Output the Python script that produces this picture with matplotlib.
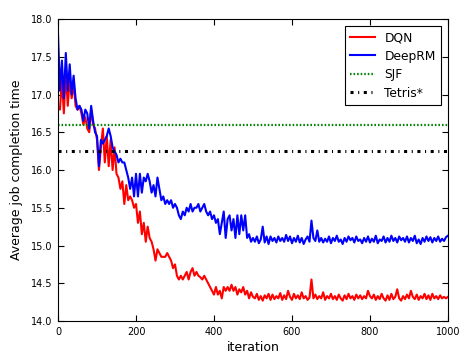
import numpy as np
import matplotlib
matplotlib.use("Agg")
import matplotlib.pyplot as plt

# iteration axis, one sample every 5 iterations
iterations = list(range(0, 1001, 5))

# DeepRM curve (blue)
deeprm = [
    17.80, 17.05, 17.45, 16.95, 17.55, 17.05, 17.40, 17.00, 17.25, 16.95,
    16.80, 16.85, 16.80, 16.65, 16.80, 16.75, 16.55, 16.85, 16.65, 16.50,
    16.45, 16.05, 16.40, 16.35, 16.40, 16.45, 16.55, 16.45, 16.30, 16.25,
    16.20, 16.10, 16.15, 16.10, 16.10, 16.00, 15.90, 15.75, 15.90, 15.65,
    15.95, 15.65, 15.95, 15.70, 15.90, 15.85, 15.95, 15.85, 15.70, 15.80,
    15.65, 15.90, 15.75, 15.60, 15.65, 15.55, 15.60, 15.55, 15.60, 15.50,
    15.55, 15.50, 15.40, 15.35, 15.45, 15.40, 15.50, 15.45, 15.55, 15.45,
    15.50, 15.50, 15.55, 15.45, 15.50, 15.55, 15.45, 15.40, 15.45, 15.35,
    15.40, 15.30, 15.35, 15.15, 15.30, 15.45, 15.10, 15.35, 15.40, 15.20,
    15.35, 15.10, 15.40, 15.15, 15.40, 15.20, 15.40, 15.10, 15.15, 15.05,
    15.10,
    15.05, 15.12, 15.03, 15.08, 15.25, 15.04, 15.12, 15.02, 15.12, 15.06,
    15.10, 15.04, 15.12, 15.06, 15.10, 15.05, 15.14, 15.06, 15.12, 15.03,
    15.10, 15.05, 15.13, 15.04, 15.10, 15.02, 15.08, 15.12, 15.05, 15.33,
    15.10, 15.06, 15.20, 15.05, 15.10, 15.04, 15.09, 15.05, 15.12, 15.03,
    15.10, 15.06, 15.13, 15.05, 15.08, 15.02, 15.10, 15.05, 15.12, 15.07,
    15.10, 15.04, 15.12, 15.06, 15.08, 15.03, 15.10, 15.05, 15.12, 15.04,
    15.09, 15.05, 15.13, 15.03, 15.08, 15.06, 15.12, 15.04, 15.10, 15.05,
    15.13, 15.06, 15.10, 15.04, 15.12, 15.07, 15.10, 15.05, 15.12, 15.04,
    15.10, 15.06, 15.13, 15.03, 15.08, 15.02, 15.10, 15.05, 15.12, 15.06,
    15.11, 15.04, 15.10, 15.06, 15.12, 15.05, 15.09, 15.06, 15.11, 15.13,
]

# DQN curve (red)
dqn = [
    16.85, 16.80, 17.20, 16.75, 17.30, 16.85, 17.20, 16.95, 17.15, 16.85,
    16.80, 16.85, 16.75, 16.60, 16.70, 16.55, 16.50, 16.80, 16.60, 16.55,
    16.40, 16.00, 16.30, 16.55, 16.10, 16.45, 16.05, 16.40, 16.00, 16.30,
    15.95, 15.90, 15.75, 15.85, 15.55, 15.80, 15.60, 15.65, 15.60, 15.50,
    15.55, 15.30, 15.45, 15.15, 15.30, 15.05, 15.25, 15.10, 15.05, 14.95,
    14.80, 14.95, 14.90, 14.85, 14.85, 14.85, 14.90, 14.85, 14.80, 14.70,
    14.75, 14.60, 14.55, 14.60, 14.55, 14.60, 14.65, 14.55, 14.65, 14.70,
    14.60, 14.65, 14.60, 14.58, 14.55, 14.60, 14.55, 14.50, 14.45, 14.40,
    14.35, 14.45, 14.35, 14.40, 14.30, 14.45, 14.40, 14.45, 14.40, 14.48,
    14.40, 14.45, 14.35, 14.42, 14.38, 14.45, 14.35, 14.40, 14.30, 14.38,
    14.32,
    14.30, 14.36, 14.28, 14.33, 14.27, 14.34, 14.30, 14.36, 14.28, 14.35,
    14.29, 14.33, 14.30, 14.37, 14.28, 14.34, 14.29, 14.40, 14.32, 14.28,
    14.36, 14.30, 14.34, 14.29, 14.38, 14.30, 14.33, 14.28, 14.31, 14.55,
    14.30, 14.35, 14.29, 14.33, 14.30, 14.38, 14.28, 14.33, 14.30, 14.36,
    14.29, 14.33, 14.28, 14.35, 14.30, 14.27, 14.34, 14.29, 14.36, 14.30,
    14.33, 14.28, 14.35, 14.30, 14.34, 14.29, 14.33, 14.30, 14.40, 14.33,
    14.30, 14.35, 14.28, 14.33, 14.29, 14.36, 14.30, 14.27, 14.34, 14.28,
    14.36, 14.29, 14.32, 14.42, 14.30, 14.27, 14.33, 14.29, 14.35, 14.30,
    14.40, 14.32, 14.29, 14.35, 14.28, 14.33, 14.30, 14.36, 14.29, 14.34,
    14.28, 14.36, 14.30, 14.33, 14.29, 14.34, 14.30, 14.32, 14.30, 14.32,
]

sjf_value = 16.6
tetris_value = 16.25

x_ticks = [0, 200, 400, 600, 800, 1000]
y_ticks = [14.0, 14.5, 15.0, 15.5, 16.0, 16.5, 17.0, 17.5, 18.0]

assert len(deeprm) == len(iterations) and len(dqn) == len(iterations)

fig = plt.figure(figsize=(4.74, 3.6), dpi=100)
ax = fig.add_axes([0.1224, 0.1083, 0.8226, 0.8389])

ax.plot(iterations, dqn, color="r", lw=1.5, label="DQN")
ax.plot(iterations, deeprm, color="b", lw=1.5, label="DeepRM")
ax.axhline(sjf_value, color="g", lw=1.6, dashes=(0.7, 0.9), label="SJF")
ax.axhline(tetris_value, color="k", lw=2.2, dashes=(1.0, 1.5, 0.35, 1.5), label="Tetris*")

ax.set_xlim(0, 1000)
ax.set_ylim(14.0, 18.0)
ax.set_xticks(x_ticks)
ax.set_yticks(y_ticks)
ax.set_yticklabels([f"{v:.1f}" for v in y_ticks])
ax.tick_params(direction="in", top=True, right=True, labelsize=7, length=4, pad=4)
ax.set_xlabel("iteration", fontsize=9, labelpad=3)
ax.set_ylabel("Average job completion time", fontsize=9, labelpad=6)

leg = ax.legend(loc="upper right", fontsize=8.8, fancybox=False, framealpha=1,
                borderaxespad=0.6, handlelength=2.0, labelspacing=0.45)
leg.get_frame().set_edgecolor("k")
leg.get_frame().set_linewidth(0.8)

fig.savefig("out.png", dpi=100)
